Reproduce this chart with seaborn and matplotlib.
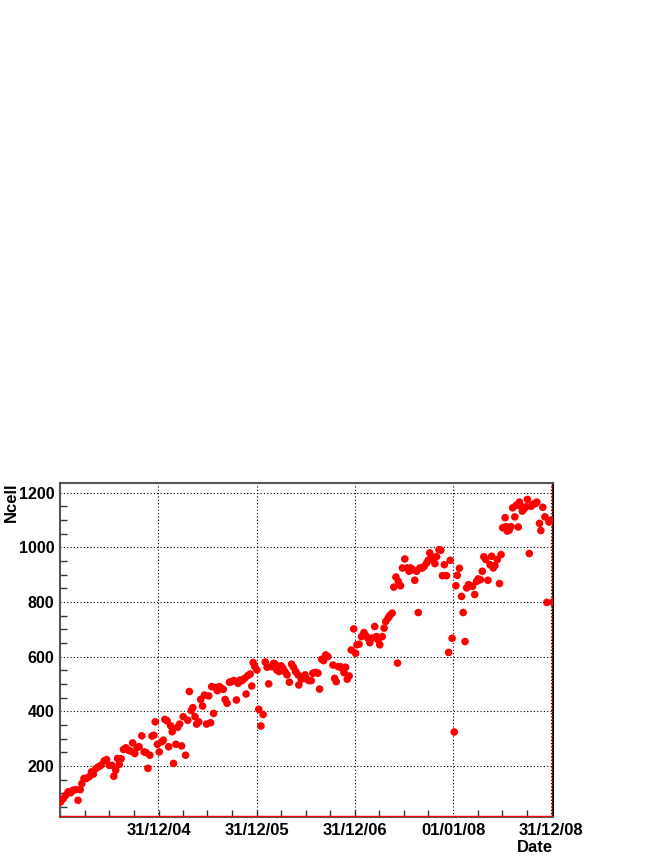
import matplotlib
matplotlib.use("Agg")
import matplotlib.pyplot as plt
import matplotlib.dates as mdates
from matplotlib.ticker import MultipleLocator
import numpy as np
import pandas as pd
import seaborn as sns

# days counted from 31/12/03
days = [2, 12, 21, 30, 40, 48, 58, 67, 75, 81, 89, 98, 108, 117, 124, 133, 142, 152, 164, 173,
        183, 193, 200, 207, 214, 220, 227, 236, 245, 255, 263, 270, 278, 287, 294, 304, 313, 319, 327, 334,
        342, 349, 354, 362, 369, 378, 384, 390, 398, 404, 411, 417, 422, 431, 437, 445, 452, 458, 467, 475,
        481, 488, 494, 502, 508, 516, 523, 530, 537, 545, 553, 560, 564, 571, 578, 585, 593, 600, 607, 614,
        621, 630, 637, 646, 656, 662, 670, 677, 686, 692, 698, 707, 713, 718, 724, 732, 739, 747, 755, 763,
        770, 776, 785, 794, 799, 806, 814, 822, 829, 837, 844, 853, 861, 868, 876, 885, 888, 897, 903, 911,
        918, 926, 934, 940, 950, 959, 965, 973, 980, 988, 996,
        1015, 1021, 1027, 1034, 1042, 1049, 1056, 1062, 1068, 1075, 1083, 1092, 1099, 1104, 1112, 1121, 1130, 1137, 1145, 1152,
        1160, 1170, 1176, 1183, 1189, 1198, 1205, 1211, 1220, 1226, 1235, 1241, 1249, 1255, 1258, 1266, 1273, 1282, 1291, 1298,
        1304, 1311, 1319, 1326, 1332, 1338, 1347, 1354, 1363, 1369, 1375, 1381, 1388, 1394, 1400, 1409, 1416, 1422, 1429, 1437,
        1445, 1451, 1458, 1466, 1472, 1477, 1485, 1493, 1499, 1506, 1512, 1519, 1524, 1534, 1542, 1549, 1555, 1563, 1570, 1576,
        1583, 1591, 1599, 1605, 1611, 1617, 1626, 1634, 1640, 1646, 1655, 1658, 1663, 1670, 1677, 1683, 1691, 1696, 1704, 1708,
        1714, 1719, 1726, 1733, 1738, 1745, 1752, 1758, 1767, 1773, 1783, 1788, 1795, 1803, 1810, 1818, 1825, 1831]

ncell = [68, 80, 92, 105, 102, 111, 113, 74, 113, 135, 154, 154, 160, 178, 170, 190, 196, 202, 218, 223,
         202, 202, 162, 184, 227, 205, 226, 260, 266, 257, 254, 284, 245, 267, 270, 310, 251, 249, 191, 239,
         309, 312, 361, 279, 251, 288, 294, 370, 365, 270, 347, 325, 209, 279, 341, 353, 273, 380, 239, 367,
         472, 402, 413, 380, 353, 361, 443, 419, 459, 353, 456, 358, 490, 392, 487, 475, 490, 484, 480, 443,
         429, 506, 508, 512, 441, 502, 514, 512, 520, 463, 530, 536, 492, 578, 563, 551, 407, 346, 388, 580,
         561, 500, 563, 575, 573, 551, 545, 566, 557, 544, 533, 506, 572, 561, 545, 533, 496, 517, 524, 533,
         517, 512, 512, 539, 542, 539, 481, 590, 585, 606, 600,
         569, 520, 508, 563, 563, 557, 541, 561, 517, 529, 624, 701, 612, 643, 645, 673, 688, 677, 667, 651,
         667, 710, 673, 661, 643, 673, 704, 728, 741, 750, 759, 854, 891, 576, 875, 859, 924, 957, 924, 912,
         924, 918, 879, 912, 761, 924, 924, 930, 942, 952, 979, 965, 955, 940, 965, 991, 989, 896, 936, 896,
         615, 952, 667, 324, 859, 897, 923, 820, 761, 655, 851, 863, 859, 857, 827, 875, 884, 881, 912, 965,
         955, 879, 936, 967, 924, 933, 955, 867, 973, 1071, 1108, 1075, 1059, 1062, 1075, 1144, 1111, 1153, 1074, 1165,
         1150, 1132, 1141, 1148, 1175, 977, 1150, 1157, 1159, 1165, 1087, 1061, 1146, 1111, 798, 1092, 1099, 799]

tick_dates = ["2004-12-31", "2005-12-31", "2006-12-31", "2008-01-01", "2008-12-31"]

t0 = pd.Timestamp("2003-12-31")
df = pd.DataFrame({"Date": t0 + pd.to_timedelta(days, unit="D"), "Ncell": ncell})

sns.set_style("white")
plt.rcParams["font.family"] = ["Liberation Sans", "DejaVu Sans"]
plt.rcParams["font.weight"] = "bold"
plt.rcParams["text.color"] = "black"
plt.rcParams["axes.labelcolor"] = "black"
plt.rcParams["xtick.labelcolor"] = "black"
plt.rcParams["ytick.labelcolor"] = "black"

fig = plt.figure(figsize=(6.64, 8.60), dpi=100)
ax = fig.add_axes([0.0904, 0.05, 0.7424, 0.3884])

sns.scatterplot(data=df, x="Date", y="Ncell", color="red", s=30, edgecolor="none", ax=ax, zorder=3)

ax.set_xlim(t0, t0 + pd.Timedelta(days=1833))
ax.set_ylim(13, 1235)

ticks = pd.to_datetime(tick_dates)
ax.set_xticks(ticks)
ax.set_xticklabels([t.strftime("%d/%m/%y") for t in ticks], fontsize=12, fontweight="bold")
ax.xaxis.set_minor_locator(mdates.MonthLocator(bymonth=[1, 4, 7, 10], bymonthday=1))
ax.yaxis.set_major_locator(MultipleLocator(200))
ax.yaxis.set_minor_locator(MultipleLocator(50))

ax.tick_params(axis="both", which="major", direction="in", length=9, width=1, color="#333333",
               pad=4, labelsize=12)
ax.tick_params(axis="y", which="major", length=10, labelsize=11.5)
ax.tick_params(axis="y", which="minor", direction="in", length=5, width=1, color="#333333", left=True)
ax.tick_params(axis="x", which="minor", direction="in", length=5, width=1, color="#333333", bottom=True)
for lab in ax.get_yticklabels():
    lab.set_fontweight("bold")

ax.grid(True, which="major", color="black", linestyle=(0, (1, 2)), linewidth=0.8)

for side in ["left", "top", "bottom"]:
    ax.spines[side].set_color("#555555")
    ax.spines[side].set_linewidth(1.5)
ax.spines["right"].set_color("black")
ax.spines["right"].set_linewidth(1.5)

ax.axhline(13 + 3, color="red", linewidth=1, zorder=4)
ax.axvline(t0 + pd.Timedelta(days=1831), color="red", linestyle=(0, (1, 1)), linewidth=1, zorder=4)

ax.set_xlabel("Date", fontsize=12, fontweight="bold", loc="right", labelpad=2)
ax.set_ylabel("Ncell", fontsize=12, fontweight="bold", loc="top")
ax.yaxis.set_label_coords(-0.084, 1.0)

fig.savefig("out.png", dpi=100, facecolor="white")
